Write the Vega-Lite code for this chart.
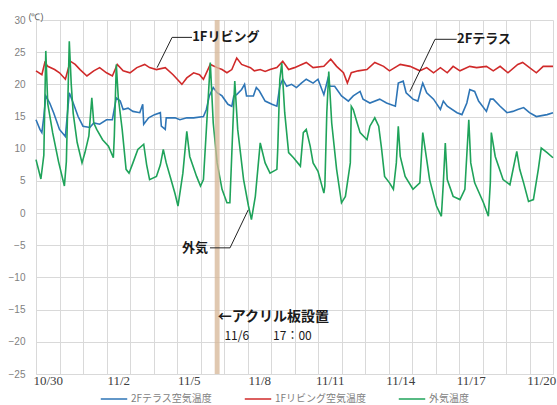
{
  "$schema": "https://vega.github.io/schema/vega-lite/v6.json",
  "width": 517,
  "height": 354,
  "autosize": {"type": "none"},
  "padding": {"left": 36, "top": 20, "right": 4, "bottom": 31},
  "background": "white",
  "config": {"view": {"stroke": null}},
  "datasets": {
    "terrace": [
      {"t":"2020-10-30T00:00","v":14.5},{"t":"2020-10-30T04:00","v":13},{"t":"2020-10-30T06:00","v":12.5},{"t":"2020-10-30T08:00","v":15},{"t":"2020-10-30T10:00","v":18.2},{"t":"2020-10-30T14:00","v":17.1},{"t":"2020-10-30T18:00","v":15.6},
      {"t":"2020-10-31T00:00","v":13},{"t":"2020-10-31T06:00","v":11.9},{"t":"2020-10-31T10:00","v":18.7},{"t":"2020-10-31T14:00","v":17.1},{"t":"2020-10-31T19:00","v":15},
      {"t":"2020-11-01T00:00","v":13.5},{"t":"2020-11-01T07:00","v":13.3},{"t":"2020-11-01T11:00","v":14},{"t":"2020-11-01T17:00","v":13.8},
      {"t":"2020-11-02T00:00","v":14.5},{"t":"2020-11-02T06:00","v":14.5},{"t":"2020-11-02T10:00","v":17.9},{"t":"2020-11-02T14:00","v":17.4},{"t":"2020-11-02T17:00","v":16.1},{"t":"2020-11-02T22:00","v":16.3},
      {"t":"2020-11-03T03:00","v":15.8},{"t":"2020-11-03T10:00","v":15.6},{"t":"2020-11-03T13:00","v":16.9},{"t":"2020-11-03T14:00","v":13.8},{"t":"2020-11-03T19:00","v":14.8},
      {"t":"2020-11-04T01:00","v":15.3},{"t":"2020-11-04T07:00","v":15.6},{"t":"2020-11-04T08:00","v":13.5},{"t":"2020-11-04T12:00","v":13},{"t":"2020-11-04T13:00","v":14.8},{"t":"2020-11-04T22:00","v":14.8},
      {"t":"2020-11-05T03:00","v":14.5},{"t":"2020-11-05T10:00","v":14.8},{"t":"2020-11-05T17:00","v":14.8},
      {"t":"2020-11-06T03:00","v":15},{"t":"2020-11-06T06:00","v":16.1},{"t":"2020-11-06T09:00","v":18.2},{"t":"2020-11-06T13:00","v":19.5},{"t":"2020-11-06T17:00","v":18.7},{"t":"2020-11-06T22:00","v":18.2},
      {"t":"2020-11-07T04:00","v":16.9},{"t":"2020-11-07T08:00","v":16.6},{"t":"2020-11-07T10:00","v":18.2},{"t":"2020-11-07T13:00","v":18.4},{"t":"2020-11-07T18:00","v":19.2},{"t":"2020-11-07T21:00","v":20},{"t":"2020-11-07T23:00","v":18.2},
      {"t":"2020-11-08T06:00","v":18.2},{"t":"2020-11-08T09:00","v":19.5},{"t":"2020-11-08T12:00","v":19},{"t":"2020-11-08T18:00","v":17.4},
      {"t":"2020-11-09T01:00","v":16.9},{"t":"2020-11-09T06:00","v":16.6},{"t":"2020-11-09T09:00","v":19.7},{"t":"2020-11-09T12:00","v":20.8},{"t":"2020-11-09T16:00","v":19.7},{"t":"2020-11-09T21:00","v":20},
      {"t":"2020-11-10T02:00","v":19.5},{"t":"2020-11-10T07:00","v":20.2},{"t":"2020-11-10T12:00","v":20.8},{"t":"2020-11-10T19:00","v":20.2},
      {"t":"2020-11-11T00:00","v":20.8},{"t":"2020-11-11T06:00","v":18.4},{"t":"2020-11-11T10:00","v":20.8},{"t":"2020-11-11T12:00","v":19.7},{"t":"2020-11-11T17:00","v":19.7},
      {"t":"2020-11-12T00:00","v":18.2},{"t":"2020-11-12T07:00","v":17.4},{"t":"2020-11-12T12:00","v":18.2},{"t":"2020-11-12T19:00","v":18.9},{"t":"2020-11-12T22:00","v":17.7},
      {"t":"2020-11-13T05:00","v":17.1},{"t":"2020-11-13T15:00","v":17.7},{"t":"2020-11-13T22:00","v":17.1},
      {"t":"2020-11-14T07:00","v":16.6},{"t":"2020-11-14T10:00","v":20.2},{"t":"2020-11-14T15:00","v":20.5},{"t":"2020-11-14T18:00","v":18.7},
      {"t":"2020-11-15T01:00","v":17.7},{"t":"2020-11-15T06:00","v":17.4},{"t":"2020-11-15T10:00","v":19.7},{"t":"2020-11-15T11:00","v":20.2},{"t":"2020-11-15T15:00","v":18.7},{"t":"2020-11-15T22:00","v":17.7},
      {"t":"2020-11-16T05:00","v":16.1},{"t":"2020-11-16T08:00","v":17.4},{"t":"2020-11-16T12:00","v":16.6},{"t":"2020-11-16T22:00","v":15.6},
      {"t":"2020-11-17T03:00","v":15.3},{"t":"2020-11-17T08:00","v":17.1},{"t":"2020-11-17T11:00","v":19.2},{"t":"2020-11-17T16:00","v":18.9},{"t":"2020-11-17T20:00","v":17.4},
      {"t":"2020-11-18T04:00","v":15.8},{"t":"2020-11-18T08:00","v":17.7},{"t":"2020-11-18T11:00","v":17.7},{"t":"2020-11-18T18:00","v":16.6},
      {"t":"2020-11-19T01:00","v":15.6},{"t":"2020-11-19T07:00","v":15.8},{"t":"2020-11-19T12:00","v":16.1},{"t":"2020-11-19T18:00","v":16.4},
      {"t":"2020-11-20T00:00","v":15.6},{"t":"2020-11-20T07:00","v":15},{"t":"2020-11-20T18:00","v":15.3},{"t":"2020-11-21T00:00","v":15.6}
    ],
    "living": [
      {"t":"2020-10-30T00:00","v":22.1},{"t":"2020-10-30T06:00","v":21.5},{"t":"2020-10-30T09:00","v":23.4},{"t":"2020-10-30T12:00","v":22.8},{"t":"2020-10-30T19:00","v":22.3},
      {"t":"2020-10-31T00:00","v":21.8},{"t":"2020-10-31T06:00","v":20.8},{"t":"2020-10-31T11:00","v":23.6},{"t":"2020-10-31T16:00","v":23.1},{"t":"2020-10-31T21:00","v":22.3},
      {"t":"2020-11-01T04:00","v":21.3},{"t":"2020-11-01T11:00","v":22.1},{"t":"2020-11-01T17:00","v":22.6},
      {"t":"2020-11-02T00:00","v":21.8},{"t":"2020-11-02T06:00","v":21.3},{"t":"2020-11-02T11:00","v":23.1},{"t":"2020-11-02T17:00","v":22.1},
      {"t":"2020-11-03T00:00","v":21.8},{"t":"2020-11-03T07:00","v":22.6},{"t":"2020-11-03T15:00","v":23.1},{"t":"2020-11-03T20:00","v":22.6},
      {"t":"2020-11-04T03:00","v":22.3},{"t":"2020-11-04T12:00","v":22.6},{"t":"2020-11-04T20:00","v":21.5},
      {"t":"2020-11-05T05:00","v":20},{"t":"2020-11-05T10:00","v":21},{"t":"2020-11-05T17:00","v":21.8},{"t":"2020-11-05T23:00","v":21.5},
      {"t":"2020-11-06T03:00","v":20.8},{"t":"2020-11-06T10:00","v":23.1},{"t":"2020-11-06T17:00","v":22.6},{"t":"2020-11-06T22:00","v":22.3},
      {"t":"2020-11-07T03:00","v":21.8},{"t":"2020-11-07T08:00","v":22.3},{"t":"2020-11-07T13:00","v":24.1},{"t":"2020-11-07T18:00","v":23.1},
      {"t":"2020-11-08T03:00","v":22.6},{"t":"2020-11-08T07:00","v":22.1},{"t":"2020-11-08T13:00","v":22.3},{"t":"2020-11-08T18:00","v":22},{"t":"2020-11-08T23:00","v":22.3},
      {"t":"2020-11-09T06:00","v":22.6},{"t":"2020-11-09T12:00","v":23.6},{"t":"2020-11-09T18:00","v":22.3},
      {"t":"2020-11-10T00:00","v":22.6},{"t":"2020-11-10T12:00","v":23.4},{"t":"2020-11-10T19:00","v":22.6},
      {"t":"2020-11-11T06:00","v":22.8},{"t":"2020-11-11T13:00","v":23.9},{"t":"2020-11-11T19:00","v":22.8},
      {"t":"2020-11-12T02:00","v":21.8},{"t":"2020-11-12T06:00","v":20.2},{"t":"2020-11-12T10:00","v":21.8},{"t":"2020-11-12T17:00","v":22.1},
      {"t":"2020-11-13T02:00","v":22.3},{"t":"2020-11-13T10:00","v":23.4},{"t":"2020-11-13T19:00","v":22.8},
      {"t":"2020-11-14T01:00","v":22.1},{"t":"2020-11-14T12:00","v":23.1},{"t":"2020-11-14T22:00","v":22.8},
      {"t":"2020-11-15T08:00","v":22.1},{"t":"2020-11-15T15:00","v":22.6},{"t":"2020-11-15T22:00","v":21.8},
      {"t":"2020-11-16T05:00","v":22.6},{"t":"2020-11-16T12:00","v":21.8},{"t":"2020-11-16T18:00","v":22.8},
      {"t":"2020-11-17T01:00","v":22.1},{"t":"2020-11-17T11:00","v":22.8},{"t":"2020-11-17T18:00","v":22.6},
      {"t":"2020-11-18T04:00","v":22.8},{"t":"2020-11-18T11:00","v":22.1},{"t":"2020-11-18T18:00","v":22.8},
      {"t":"2020-11-19T02:00","v":21.8},{"t":"2020-11-19T12:00","v":23.1},{"t":"2020-11-19T17:00","v":23.4},
      {"t":"2020-11-20T00:00","v":22.6},{"t":"2020-11-20T07:00","v":21.8},{"t":"2020-11-20T14:00","v":22.8},{"t":"2020-11-21T00:00","v":22.8}
    ],
    "outside": [
      {"t":"2020-10-30T00:00","v":8.3},{"t":"2020-10-30T03:00","v":6.5},{"t":"2020-10-30T05:00","v":5.3},{"t":"2020-10-30T08:00","v":9},{"t":"2020-10-30T10:00","v":25.2},{"t":"2020-10-30T12:00","v":17},{"t":"2020-10-30T17:00","v":12.5},{"t":"2020-10-30T23:00","v":8},
      {"t":"2020-10-31T05:00","v":4.2},{"t":"2020-10-31T07:00","v":8},{"t":"2020-10-31T10:00","v":26.7},{"t":"2020-10-31T12:00","v":20},{"t":"2020-10-31T14:00","v":15.5},{"t":"2020-10-31T18:00","v":11},{"t":"2020-10-31T23:00","v":7.8},
      {"t":"2020-11-01T02:00","v":9.4},{"t":"2020-11-01T06:00","v":12},{"t":"2020-11-01T09:00","v":17.9},{"t":"2020-11-01T11:00","v":14},{"t":"2020-11-01T14:00","v":13},{"t":"2020-11-01T20:00","v":11.4},
      {"t":"2020-11-02T02:00","v":10.4},{"t":"2020-11-02T07:00","v":8.6},{"t":"2020-11-02T08:00","v":12},{"t":"2020-11-02T10:00","v":23.1},{"t":"2020-11-02T12:00","v":18},{"t":"2020-11-02T16:00","v":13},{"t":"2020-11-02T20:00","v":6.8},{"t":"2020-11-02T23:00","v":6.2},
      {"t":"2020-11-03T03:00","v":7.8},{"t":"2020-11-03T08:00","v":9.9},{"t":"2020-11-03T14:00","v":10.7},{"t":"2020-11-03T17:00","v":7.5},{"t":"2020-11-03T20:00","v":5.2},
      {"t":"2020-11-04T03:00","v":5.7},{"t":"2020-11-04T07:00","v":7.5},{"t":"2020-11-04T10:00","v":9.9},{"t":"2020-11-04T13:00","v":7.8},{"t":"2020-11-04T17:00","v":5.7},{"t":"2020-11-04T22:00","v":3},
      {"t":"2020-11-05T01:00","v":1.1},{"t":"2020-11-05T06:00","v":6.2},{"t":"2020-11-05T10:00","v":12.7},{"t":"2020-11-05T13:00","v":8.8},{"t":"2020-11-05T20:00","v":5.7},
      {"t":"2020-11-06T00:00","v":4.2},{"t":"2020-11-06T03:00","v":5.2},{"t":"2020-11-06T06:00","v":13},{"t":"2020-11-06T10:00","v":23.4},{"t":"2020-11-06T13:00","v":14},{"t":"2020-11-06T17:00","v":7.8},{"t":"2020-11-06T22:00","v":3.7},
      {"t":"2020-11-07T03:00","v":1.6},{"t":"2020-11-07T06:00","v":1.6},{"t":"2020-11-07T10:00","v":17.1},{"t":"2020-11-07T11:00","v":20.5},{"t":"2020-11-07T14:00","v":13},{"t":"2020-11-07T20:00","v":5.2},
      {"t":"2020-11-08T01:00","v":1.1},{"t":"2020-11-08T04:00","v":-1},{"t":"2020-11-08T08:00","v":2.6},{"t":"2020-11-08T13:00","v":10.9},{"t":"2020-11-08T18:00","v":7.8},{"t":"2020-11-08T23:00","v":6.2},
      {"t":"2020-11-09T06:00","v":6.8},{"t":"2020-11-09T07:00","v":10.4},{"t":"2020-11-09T09:00","v":20.8},{"t":"2020-11-09T11:00","v":23.3},{"t":"2020-11-09T14:00","v":15.6},{"t":"2020-11-09T18:00","v":9.4},{"t":"2020-11-09T23:00","v":8.6},
      {"t":"2020-11-10T06:00","v":7.3},{"t":"2020-11-10T09:00","v":12.5},{"t":"2020-11-10T12:00","v":13},{"t":"2020-11-10T16:00","v":10.4},{"t":"2020-11-10T19:00","v":7.8},
      {"t":"2020-11-11T00:00","v":6.5},{"t":"2020-11-11T06:00","v":3.1},{"t":"2020-11-11T07:00","v":4.2},{"t":"2020-11-11T09:00","v":15.6},{"t":"2020-11-11T11:00","v":22},{"t":"2020-11-11T14:00","v":14},{"t":"2020-11-11T19:00","v":6.8},
      {"t":"2020-11-12T00:00","v":1.6},{"t":"2020-11-12T04:00","v":2.6},{"t":"2020-11-12T09:00","v":7.8},{"t":"2020-11-12T10:00","v":16.6},{"t":"2020-11-12T12:00","v":16.1},{"t":"2020-11-12T16:00","v":14},{"t":"2020-11-12T19:00","v":12.5},
      {"t":"2020-11-13T02:00","v":11.4},{"t":"2020-11-13T05:00","v":13.5},{"t":"2020-11-13T10:00","v":14.8},{"t":"2020-11-13T14:00","v":13.5},{"t":"2020-11-13T17:00","v":9.9},{"t":"2020-11-13T20:00","v":5.7},
      {"t":"2020-11-14T01:00","v":4.7},{"t":"2020-11-14T05:00","v":3.7},{"t":"2020-11-14T08:00","v":7.8},{"t":"2020-11-14T10:00","v":13.5},{"t":"2020-11-14T12:00","v":8.8},{"t":"2020-11-14T17:00","v":5.7},
      {"t":"2020-11-15T01:00","v":3.7},{"t":"2020-11-15T08:00","v":4.7},{"t":"2020-11-15T11:00","v":12.5},{"t":"2020-11-15T13:00","v":10.4},{"t":"2020-11-15T18:00","v":5.2},
      {"t":"2020-11-16T01:00","v":1.1},{"t":"2020-11-16T06:00","v":-0.5},{"t":"2020-11-16T08:00","v":4.7},{"t":"2020-11-16T10:00","v":10.9},{"t":"2020-11-16T12:00","v":5.2},{"t":"2020-11-16T18:00","v":2.6},
      {"t":"2020-11-17T01:00","v":2.1},{"t":"2020-11-17T06:00","v":3.7},{"t":"2020-11-17T10:00","v":14.5},{"t":"2020-11-17T12:00","v":7.8},{"t":"2020-11-17T16:00","v":4.7},
      {"t":"2020-11-18T01:00","v":1.6},{"t":"2020-11-18T06:00","v":-0.5},{"t":"2020-11-18T08:00","v":4.7},{"t":"2020-11-18T09:00","v":12.5},{"t":"2020-11-18T13:00","v":8.8},{"t":"2020-11-18T21:00","v":5.2},
      {"t":"2020-11-19T04:00","v":4.4},{"t":"2020-11-19T11:00","v":9.6},{"t":"2020-11-19T14:00","v":6.8},{"t":"2020-11-19T18:00","v":4.7},{"t":"2020-11-19T23:00","v":1.8},
      {"t":"2020-11-20T04:00","v":2.1},{"t":"2020-11-20T09:00","v":6.8},{"t":"2020-11-20T12:00","v":10.1},{"t":"2020-11-20T18:00","v":9.4},{"t":"2020-11-21T00:00","v":8.6}
    ],
    "band": [{"t":"2020-11-06T14:30","t2":"2020-11-06T19:30"}],
    "leaders": [
      {"t":"2020-11-04T19:00","v":27.3,"t2":"2020-11-05T15:20","v2":27.3},
      {"t":"2020-11-04T19:00","v":27.3,"t2":"2020-11-04T03:40","v2":22.6},
      {"t":"2020-11-15T23:30","v":27.0,"t2":"2020-11-16T21:40","v2":27.0},
      {"t":"2020-11-15T23:30","v":27.0,"t2":"2020-11-14T21:50","v2":18.9},
      {"t":"2020-11-06T09:40","v":-5.4,"t2":"2020-11-07T06:10","v2":-5.4},
      {"t":"2020-11-07T06:10","v":-5.4,"t2":"2020-11-08T00:45","v2":0.5}
    ],
    "leftNotes": [
      {"t":"2020-11-05T15:30","v":27.3,"label":"1Fリビング"},
      {"t":"2020-11-16T22:00","v":27.0,"label":"2Fテラス"}
    ],
    "rightNotes": [
      {"t":"2020-11-06T07:40","v":-5.4,"label":"外気"}
    ],
    "acrylNote": [
      {"t":"2020-11-06T17:40","v":-16.2,"label":"←アクリル板設置"}
    ],
    "dateNote": [
      {"t":"2020-11-08T21:00","v":-19.1,"label":"11/6　　17：00"}
    ]
  },
  "encoding": {
    "x": {
      "field": "t",
      "type": "temporal",
      "scale": {"domain": [{"year": 2020, "month": 10, "date": 30}, {"year": 2020, "month": 11, "date": 21}]},
      "axis": {
        "title": null,
        "tickCount": {"interval": "day", "step": 1},
        "grid": true,
        "gridColor": "#d9d9d9",
        "gridWidth": 1,
        "ticks": false,
        "domain": true,
        "domainColor": "#d9d9d9",
        "labelOffset": 11.75,
        "labelAlign": "center",
        "labelFlush": false,
        "labelOverlap": false,
        "labelBound": false,
        "labelPadding": 0,
        "labelFont": "Liberation Sans Narrow",
        "labelFontSize": 13,
        "labelColor": "#404040",
        "labelExpr": "(round((datum.value - datetime(2020, 9, 30)) / 86400000) % 3 == 0 && round((datum.value - datetime(2020, 9, 30)) / 86400000) < 22) ? timeFormat(datum.value, '%-m/%-d') : ''"
      }
    },
    "y": {
      "field": "v",
      "type": "quantitative",
      "scale": {"domain": [-25, 30], "nice": false},
      "axis": {
        "title": "(℃)",
        "titleAngle": 0,
        "titleAlign": "left",
        "titleBaseline": "middle",
        "titleX": -8,
        "titleY": -4,
        "titleFont": "Liberation Sans",
        "titleFontSize": 9,
        "titleFontWeight": "normal",
        "titleColor": "#595959",
        "values": [-25, -20, -15, -10, -5, 0, 5, 10, 15, 20, 25, 30],
        "grid": true,
        "gridColor": "#d9d9d9",
        "ticks": false,
        "domain": false,
        "labelPadding": 11,
        "labelFont": "Liberation Sans",
        "labelFontSize": 10,
        "labelColor": "#7f7f7f"
      }
    }
  },
  "layer": [
    {
      "data": {"name": "terrace"},
      "mark": {"type": "line", "strokeWidth": 1.6},
      "encoding": {"color": {"datum": "2Fテラス空気温度"}}
    },
    {
      "data": {"name": "living"},
      "mark": {"type": "line", "strokeWidth": 1.6},
      "encoding": {"color": {"datum": "1Fリビング空気温度"}}
    },
    {
      "data": {"name": "outside"},
      "mark": {"type": "line", "strokeWidth": 1.6},
      "encoding": {
        "color": {
          "datum": "外気温度",
          "scale": {
            "domain": ["2Fテラス空気温度", "1Fリビング空気温度", "外気温度"],
            "range": ["#2E75B6", "#D02A2A", "#1FA35A"]
          },
          "legend": {
            "title": null,
            "orient": "none",
            "direction": "horizontal",
            "legendX": 64,
            "legendY": 365,
            "symbolType": "stroke",
            "symbolSize": 700,
            "symbolStrokeWidth": 1.5,
            "labelFont": "Noto Sans CJK JP",
            "labelFontSize": 10,
            "labelColor": "#7f7f7f",
            "labelOffset": 3,
            "columnPadding": 28
          }
        }
      }
    },
    {
      "data": {"name": "band"},
      "mark": {"type": "rect", "color": "#D6B595", "opacity": 0.75},
      "encoding": {"x": {"field": "t", "type": "temporal"}, "x2": {"field": "t2"}, "y": null}
    },
    {
      "data": {"name": "leaders"},
      "mark": {"type": "rule", "color": "#222222", "strokeWidth": 1},
      "encoding": {
        "x": {"field": "t", "type": "temporal"},
        "x2": {"field": "t2"},
        "y": {"field": "v", "type": "quantitative"},
        "y2": {"field": "v2"}
      }
    },
    {
      "data": {"name": "leftNotes"},
      "mark": {"type": "text", "align": "left", "baseline": "middle", "font": "Noto Sans CJK JP", "fontSize": 13, "fontWeight": "bold", "color": "#1a1a1a"},
      "encoding": {"text": {"field": "label"}}
    },
    {
      "data": {"name": "rightNotes"},
      "mark": {"type": "text", "align": "right", "baseline": "middle", "font": "Noto Sans CJK JP", "fontSize": 13, "fontWeight": "bold", "color": "#1a1a1a"},
      "encoding": {"text": {"field": "label"}}
    },
    {
      "data": {"name": "acrylNote"},
      "mark": {"type": "text", "align": "left", "baseline": "middle", "font": "Noto Sans CJK JP", "fontSize": 14, "fontWeight": "bold", "color": "#1a1a1a"},
      "encoding": {"text": {"field": "label"}}
    },
    {
      "data": {"name": "dateNote"},
      "mark": {"type": "text", "align": "center", "baseline": "middle", "font": "Liberation Sans Narrow, Noto Sans CJK JP", "fontSize": 12, "color": "#1a1a1a"},
      "encoding": {"text": {"field": "label"}}
    }
  ]
}
